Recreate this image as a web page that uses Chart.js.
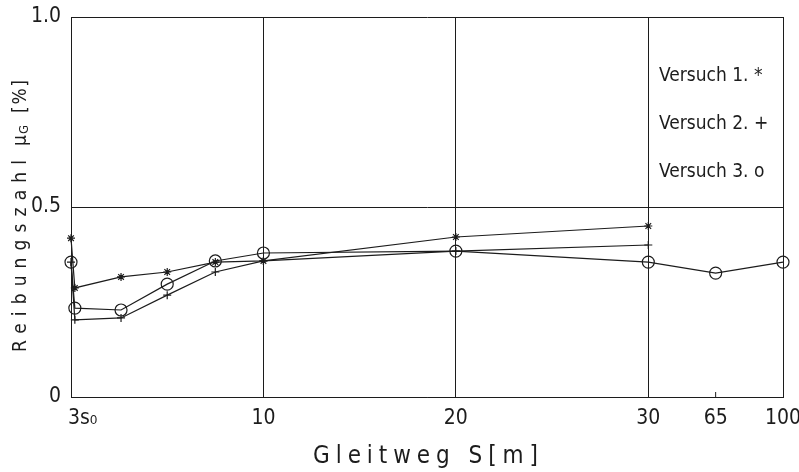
<!DOCTYPE html>
<html>
<head>
<meta charset="utf-8">
<script src="https://cdn.jsdelivr.net/npm/chart.js@4/dist/chart.umd.min.js"></script>
<style>
  html, body { margin: 0; padding: 0; background: #fff; }
  #wrap { width: 799px; height: 472px; }
</style>
</head>
<body>
<div id="wrap"><canvas id="chart" width="799" height="472"></canvas></div>
<script>
// Gleitweg S [m] and Reibungszahl per Versuch
const versuch1S  = [0, 0.2, 2.6, 5, 7.5, 10, 20, 30];
const versuch1Mu = [0.418, 0.287, 0.316, 0.329, 0.355, 0.358, 0.421, 0.45];
const versuch2S  = [0, 0.2, 2.6, 5, 7.5, 10, 20, 30];
const versuch2Mu = [0.355, 0.203, 0.208, 0.268, 0.329, 0.358, 0.384, 0.40];
const versuch3S  = [0, 0.2, 2.6, 5, 7.5, 10, 20, 30, 65, 100];
const versuch3Mu = [0.355, 0.234, 0.229, 0.297, 0.358, 0.379, 0.384, 0.355, 0.326, 0.355];

const xTickValues = [0, 10, 20, 30, 65, 100];
const xTickLabels = ['3s\u2080', '10', '20', '30', '65', '100'];
const yTickValues = [0, 0.5, 1];
const yTickLabels = ['0', '0.5', '1.0'];
const legendLabels = ['Versuch 1. *', 'Versuch 2. +', 'Versuch 3. o'];

// broken axis: linear up to 30 m, then 65 and 100 squeezed in
const sPos = s => s <= 30 ? s : (s <= 65 ? 30 + (s - 30) / 10 : 33.5 + (s - 65) / 10);

const INK = '#1c1c1c';
const FONT = '"DejaVu Sans Condensed", "Liberation Sans Narrow", "DejaVu Sans", sans-serif';

const toPts = (xs, ys) => xs.map((s, i) => ({ x: sPos(s), y: ys[i] }));

// spread a string over a given length (plotter lettering is wide-spaced)
function spacedText (ctx, text, x, y, length) {
  ctx.letterSpacing = '0px';
  const w = ctx.measureText(text).width;
  const gap = Math.max(0, (length - w) / (text.length - 1));
  ctx.letterSpacing = gap + 'px';
  ctx.textAlign = 'left';
  ctx.fillText(text, x, y);
  ctx.letterSpacing = '0px';
}

const decor = {
  id: 'decor',
  afterDraw (chart) {
    const { ctx, chartArea: a, scales: { x } } = chart;
    ctx.save();
    ctx.fillStyle = INK;
    ctx.strokeStyle = INK;

    // x tick labels
    ctx.font = '21px ' + FONT;
    ctx.textBaseline = 'middle';
    xTickValues.forEach((v, i) => {
      const px = x.getPixelForValue(sPos(v));
      ctx.textAlign = i === 0 ? 'left' : 'center';
      ctx.fillText(xTickLabels[i], i === 0 ? px - 3 : px, a.bottom + 22);
    });

    // small tick at 65 (no grid line there)
    const p65 = x.getPixelForValue(sPos(65));
    ctx.lineWidth = 1;
    ctx.beginPath();
    ctx.moveTo(p65, a.bottom);
    ctx.lineTo(p65, a.bottom - 5);
    ctx.stroke();

    // x title
    ctx.font = '24px ' + FONT;
    spacedText(ctx, 'Gleitweg S[m]', 313, 457, 225);

    // y title with subscript
    ctx.save();
    ctx.translate(21, 352);
    ctx.rotate(-Math.PI / 2);
    ctx.font = '19px ' + FONT;
    spacedText(ctx, 'Reibungszahl', 0, 0, 192);
    ctx.fillText('\u00b5', 206, 0);
    ctx.font = '13px ' + FONT;
    ctx.fillText('G', 218, 4);
    ctx.font = '19px ' + FONT;
    spacedText(ctx, '[%]', 239, 0, 33);
    ctx.restore();

    // legend text box
    ctx.font = '19px ' + FONT;
    legendLabels.forEach((t, i) => spacedText(ctx, t, 659, 76 + i * 48, 98));
    ctx.restore();
  }
};

const lineStyle = { borderColor: INK, borderWidth: 1.2, tension: 0, clip: false, pointBorderColor: INK,
  pointBackgroundColor: 'rgba(0,0,0,0)', pointBorderWidth: 1.2 };

new Chart(document.getElementById('chart'), {
  type: 'line',
  data: {
    datasets: [
      { ...lineStyle, label: legendLabels[0], data: toPts(versuch1S, versuch1Mu), pointStyle: 'star', pointRadius: 4 },
      { ...lineStyle, label: legendLabels[1], data: toPts(versuch2S, versuch2Mu), pointStyle: 'cross', pointRadius: 4 },
      { ...lineStyle, label: legendLabels[2], data: toPts(versuch3S, versuch3Mu), pointStyle: 'circle', pointRadius: 6 }
    ]
  },
  options: {
    responsive: false,
    animation: false,
    layout: { padding: { top: 17, right: 16, left: 0, bottom: 0 } },
    plugins: { legend: { display: false }, tooltip: { enabled: false } },
    scales: {
      x: {
        type: 'linear', min: 0, max: sPos(100),
        afterBuildTicks: s => { s.ticks = xTickValues.map(v => ({ value: sPos(v) })); },
        afterFit: s => { s.height = 75; s.paddingLeft = 0; s.paddingRight = 0; },
        ticks: { display: false },
        grid: {
          drawTicks: false, lineWidth: 1,
          color: c => c.tick && c.tick.value === sPos(65) ? 'rgba(0,0,0,0)' : INK
        },
        border: { color: INK, width: 1 }
      },
      y: {
        min: 0, max: 1,
        afterBuildTicks: s => { s.ticks = yTickValues.map(v => ({ value: v })); },
        afterFit: s => { s.width = 71; s.paddingTop = 0; s.paddingBottom = 0; },
        ticks: {
          padding: 10, color: INK, font: { family: FONT, size: 21 },
          callback: (v) => yTickLabels[yTickValues.indexOf(v)]
        },
        grid: { drawTicks: false, color: INK, lineWidth: 1 },
        border: { color: INK, width: 1 }
      }
    }
  },
  plugins: [decor]
});
</script>
</body>
</html>
